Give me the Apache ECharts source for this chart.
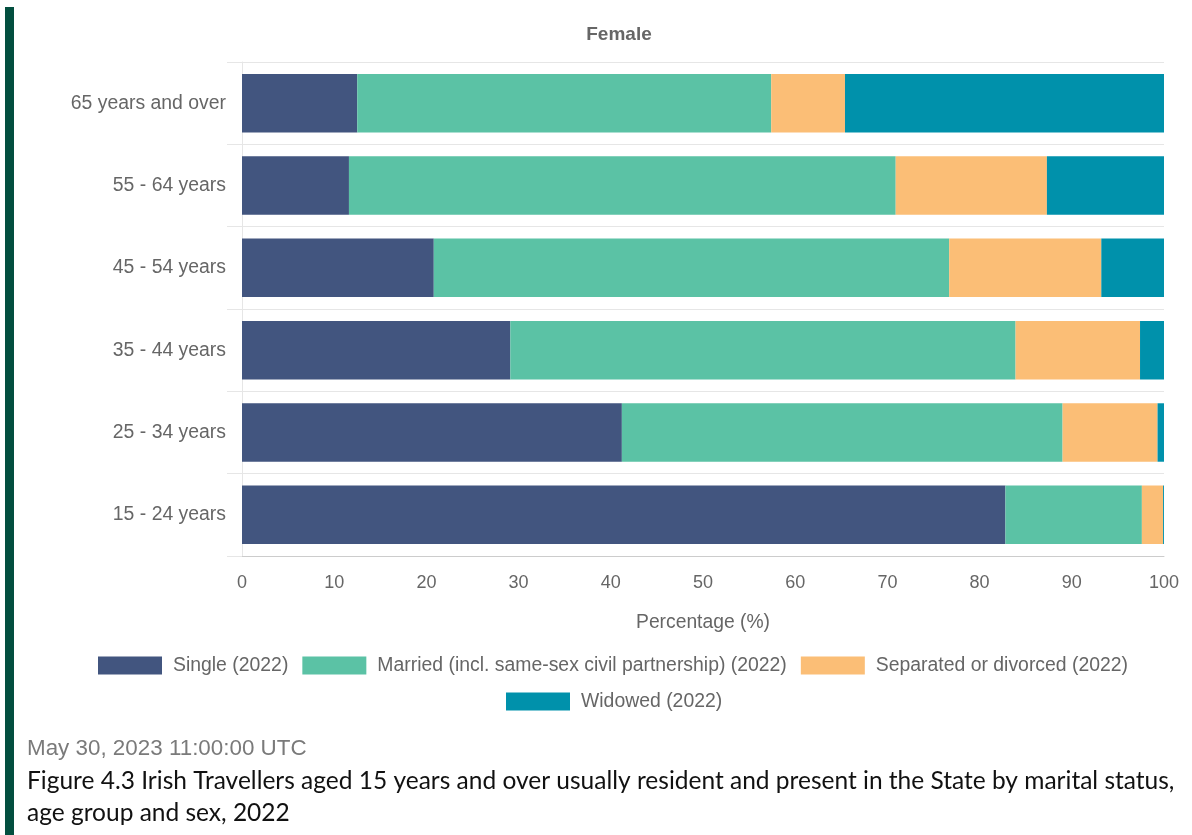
<!DOCTYPE html>
<html>
<head>
<meta charset="utf-8">
<style>
  html, body { margin: 0; padding: 0; background: #ffffff; }
  #chart { width: 1192px; height: 835px; }
</style>
<script src="https://cdn.jsdelivr.net/npm/echarts@6/dist/echarts.min.js"></script>
</head>
<body>
<div id="chart"></div>
<script>
// Age groups, listed top to bottom
const ageGroups = ['65 years and over', '55 - 64 years', '45 - 54 years', '35 - 44 years', '25 - 34 years', '15 - 24 years'];

// Share of Irish Traveller females in each marital status (%)
const single    = [12.5, 11.6, 20.8, 29.1, 41.2, 82.8];
const married   = [44.9, 59.3, 55.9, 54.8, 47.8, 14.8];
const separated = [8.0, 16.4, 16.5, 13.5, 10.3, 2.3];
const widowed   = [34.6, 12.7, 6.8, 2.6, 0.7, 0.1];

const seriesNames = ['Single (2022)', 'Married (incl. same-sex civil partnership) (2022)', 'Separated or divorced (2022)', 'Widowed (2022)'];
const seriesColors = ['#42557f', '#5bc2a5', '#fbbe76', '#0091ab'];
const xTicks = { min: 0, max: 100, step: 10 };

const chartFont = '"Liberation Sans", Arial, sans-serif';
const captionFont = 'Lato, "Open Sans", sans-serif';
const chart = echarts.init(document.getElementById('chart'));

const values = [single, married, separated, widowed];
const series = values.map((data, i) => ({
  name: seriesNames[i],
  type: 'bar',
  stack: 'total',
  barWidth: '71%',
  data: data,
  itemStyle: { color: seriesColors[i] },
  emphasis: { disabled: true }
}));

const legendText = { color: '#666', fontSize: 19.4, fontFamily: chartFont, padding: [0, 0, 0, 6] };

chart.setOption({
  animation: false,
  textStyle: { fontFamily: chartFont },
  title: {
    text: 'Female',
    left: 614,
    top: 20,
    textAlign: 'center',
    textStyle: { color: '#666', fontSize: 19, fontWeight: 'bold', fontFamily: chartFont }
  },
  grid: { left: 242, right: 28, top: 62, bottom: 279, containLabel: false },
  legend: [
    {
      data: seriesNames.slice(0, 3),
      left: 98, top: 656,
      padding: 0,
      itemWidth: 64, itemHeight: 18, itemGap: 14,
      icon: 'rect',
      textStyle: legendText,
      selectedMode: false
    },
    {
      data: seriesNames.slice(3),
      left: 506, top: 692,
      padding: 0,
      itemWidth: 64, itemHeight: 18, itemGap: 14,
      icon: 'rect',
      textStyle: legendText,
      selectedMode: false
    }
  ],
  xAxis: {
    type: 'value',
    min: xTicks.min, max: xTicks.max, interval: xTicks.step,
    name: 'Percentage (%)',
    nameLocation: 'middle',
    nameGap: 57,
    nameTextStyle: { color: '#666', fontSize: 19.3, fontFamily: chartFont },
    axisLine: { show: true, lineStyle: { color: '#cccccc', width: 1 } },
    axisTick: { show: false },
    splitLine: { show: false },
    axisLabel: { color: '#666', fontSize: 18, margin: 18, fontFamily: chartFont }
  },
  yAxis: {
    type: 'category',
    data: ageGroups,
    inverse: true,
    axisLine: { show: true, lineStyle: { color: '#e6e6e6', width: 1 } },
    axisTick: { show: true, length: 15, lineStyle: { color: '#e6e6e6', width: 1 } },
    splitLine: { show: true, lineStyle: { color: '#e6e6e6', width: 1 } },
    axisLabel: { color: '#666', fontSize: 19.4, margin: 16, fontFamily: chartFont }
  },
  graphic: [
    {
      type: 'rect',
      shape: { x: 5, y: 7, width: 9, height: 835 },
      style: { fill: '#034f3f' },
      silent: true
    },
    {
      type: 'text',
      left: 27, top: 738,
      style: { text: 'May 30, 2023 11:00:00 UTC', fill: '#7a7a7a', font: '22.4px ' + chartFont }
    },
    {
      type: 'text',
      left: 27, top: 769,
      style: {
        text: 'Figure 4.3 Irish Travellers aged 15 years and over usually resident and present in the State by marital status,',
        fill: '#111', font: '24.5px ' + captionFont
      }
    },
    {
      type: 'text',
      left: 27, top: 801,
      style: { text: 'age group and sex, 2022', fill: '#111', font: '24.5px ' + captionFont }
    }
  ],
  series: series
});
</script>
</body>
</html>
